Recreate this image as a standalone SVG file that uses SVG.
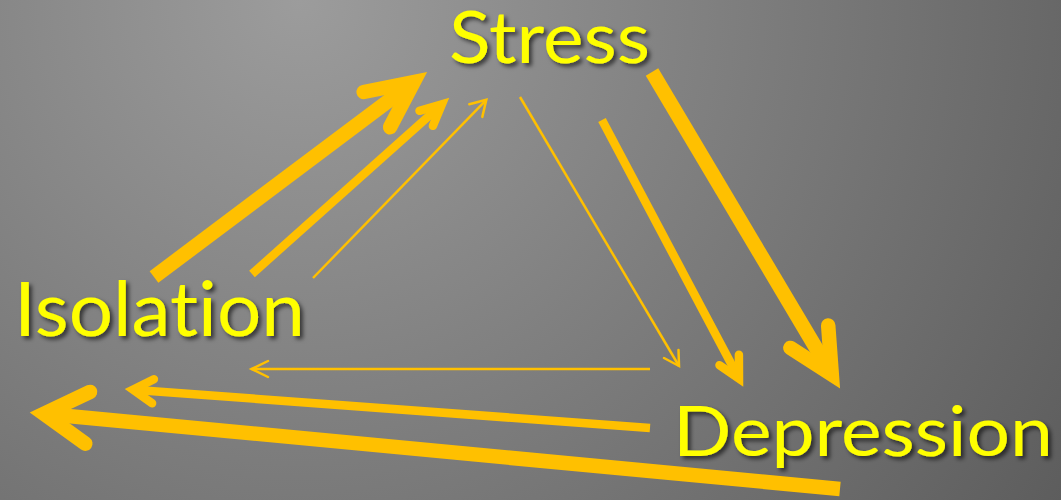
<svg xmlns="http://www.w3.org/2000/svg" width="1061" height="500" viewBox="0 0 1061 500">
  <defs>
    <radialGradient id="bg" cx="300" cy="0" r="1100" gradientUnits="userSpaceOnUse">
      <stop offset="0" stop-color="#9c9c9c"/>
      <stop offset="1" stop-color="#505050"/>
    </radialGradient>
    <filter id="shadow" x="-20%" y="-50%" width="140%" height="200%">
      <feDropShadow dx="3" dy="3" stdDeviation="2" flood-color="#000" flood-opacity="0.6"/>
    </filter>
    <style>
      .lbl { font-family: Lato, "Open Sans", "Liberation Sans", sans-serif; fill: #FFFF00; filter: url(#shadow); font-variant-ligatures: none; font-feature-settings: "liga" 0, "clig" 0; }
      .ln { stroke: #FFC000; fill: none; stroke-linecap: butt; }
      .hd { stroke: #FFC000; fill: none; stroke-linecap: round; stroke-linejoin: miter; stroke-miterlimit: 10; }
      .w1 { stroke-width: 2.5; }
      .w2 { stroke-width: 8.5; }
      .w3 { stroke-width: 14.5; }
    </style>
  </defs>
  <rect width="1061" height="500" fill="url(#bg)"/>

  <g id="connectors">
    <!-- Isolation -> Stress -->
    <line class="ln w3" x1="154" y1="277" x2="413.7" y2="82"/>
    <polyline class="hd w3" points="363.7,92 413.7,82 390.1,127.2"/>
    <line class="ln w2" x1="252" y1="274" x2="441.9" y2="104.3"/>
    <polyline class="hd w2" points="419.5,110.8 441.9,104.3 432.9,125.8"/>
    <line class="ln w1" x1="313" y1="278" x2="486.3" y2="99.8"/>
    <polyline class="hd w1" points="469.3,104.3 486.3,99.8 482.3,116.9"/>

    <!-- Stress -> Depression -->
    <line class="ln w1" x1="520" y1="97" x2="679" y2="366"/>
    <polyline class="hd w1" points="664,358 679,366 678.5,350"/>
    <line class="ln w2" x1="602" y1="120" x2="739" y2="378.6"/>
    <polyline class="hd w2" points="719.5,365.2 739,378.6 738.9,354.8"/>
    <line class="ln w3" x1="652" y1="72" x2="831.8" y2="374.5"/>
    <polyline class="hd w3" points="790.4,347.9 831.8,374.5 828.2,325.5"/>

    <!-- Depression -> Isolation -->
    <line class="ln w1" x1="650" y1="369" x2="251.5" y2="369"/>
    <polyline class="hd w1" points="268,361 251.5,369 268,377"/>
    <line class="ln w2" x1="650" y1="428" x2="133" y2="389.7"/>
    <polyline class="hd w2" points="153.9,379.2 133,389.7 152.1,403.2"/>
    <line class="ln w3" x1="840" y1="489" x2="43.9" y2="413.7"/>
    <polyline class="hd w3" points="90.1,391.9 43.9,413.7 85.3,443.7"/>
  </g>

  <g id="node-stress">
    <text class="lbl" x="449" y="63" font-size="72" textLength="201" lengthAdjust="spacingAndGlyphs">Stress</text>
  </g>
  <g id="node-isolation">
    <text class="lbl" x="14" y="336" font-size="75" textLength="291" lengthAdjust="spacingAndGlyphs">Isolation</text>
  </g>
  <g id="node-depression">
    <text class="lbl" x="673" y="456" font-size="69" textLength="380" lengthAdjust="spacingAndGlyphs">Depression</text>
  </g>
</svg>
